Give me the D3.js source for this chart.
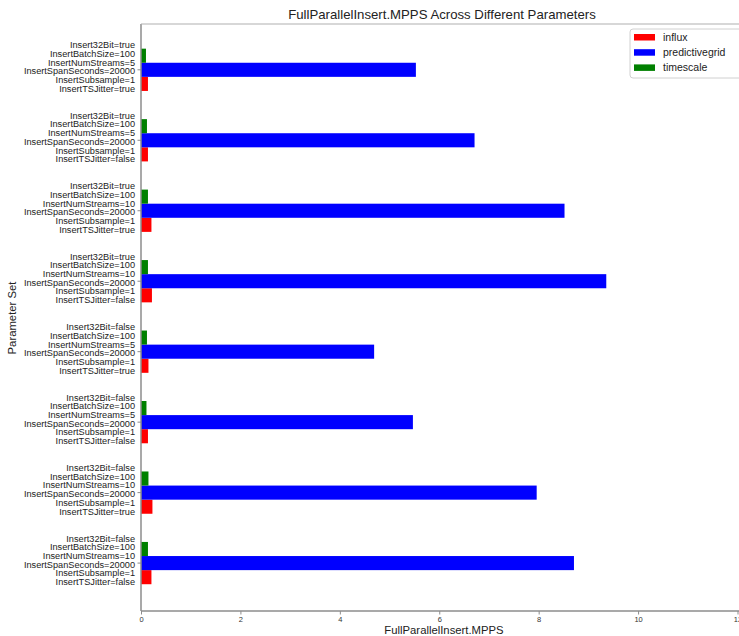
<!DOCTYPE html>
<html>
<head>
<meta charset="utf-8">
<script src="https://cdn.jsdelivr.net/npm/d3@7"></script>
<style>
  html, body { margin: 0; padding: 0; background: #fff; }
  svg { display: block; font-family: "Liberation Sans", Arial, sans-serif; }
</style>
</head>
<body>
<svg id="chart" width="739" height="636"></svg>
<script>
// ---- data ----
const insert32Bit   = ["true", "true", "true", "true", "false", "false", "false", "false"];
const batchSize     = [100, 100, 100, 100, 100, 100, 100, 100];
const numStreams    = [5, 5, 10, 10, 5, 5, 10, 10];
const spanSeconds   = [20000, 20000, 20000, 20000, 20000, 20000, 20000, 20000];
const subsample     = [1, 1, 1, 1, 1, 1, 1, 1];
const tsJitter      = ["true", "false", "true", "false", "true", "false", "true", "false"];

const seriesNames   = ["influx", "predictivegrid", "timescale"];
const influx        = [0.14, 0.14, 0.21, 0.22, 0.15, 0.14, 0.23, 0.21];
const predictivegrid= [5.53, 6.71, 8.52, 9.36, 4.69, 5.47, 7.96, 8.71];
const timescale     = [0.10, 0.12, 0.14, 0.14, 0.12, 0.11, 0.15, 0.14];

const xTicks = [0, 2, 4, 6, 8, 10, 12];

const title  = "FullParallelInsert.MPPS Across Different Parameters";
const xLabel = "FullParallelInsert.MPPS";
const yLabel = "Parameter Set";

(function () {
// ---- build ----
const groups = insert32Bit.map((_, i) => ({
  i,
  lines: [
    "Insert32Bit=" + insert32Bit[i],
    "InsertBatchSize=" + batchSize[i],
    "InsertNumStreams=" + numStreams[i],
    "InsertSpanSeconds=" + spanSeconds[i],
    "InsertSubsample=" + subsample[i],
    "InsertTSJitter=" + tsJitter[i]
  ],
  vals: { influx: influx[i], predictivegrid: predictivegrid[i], timescale: timescale[i] }
}));

const colors = { influx: "#ff0000", predictivegrid: "#0000ff", timescale: "#008000" };
const offsets = { influx: 0.2, predictivegrid: 0, timescale: -0.2 };
const barH = 0.2;

const pLeft = 141, pTop = 24, pBottom = 611, pRight = 737.5;

const svg = d3.select("#chart");
const x = d3.scaleLinear().domain([0, 12]).range([pLeft, pRight]);
const y = d3.scaleLinear().domain([-0.65, 7.68]).range([pTop, pBottom]);

// bars
seriesNames.forEach(s => {
  svg.append("g").selectAll("rect").data(groups).join("rect")
    .attr("x", x(0))
    .attr("y", d => y(d.i + offsets[s] - barH / 2))
    .attr("width", d => x(d.vals[s]) - x(0))
    .attr("height", y(barH) - y(0))
    .attr("fill", colors[s]);
});

// spines
const spine = "#8c8c8c";
svg.append("line").attr("x1", pLeft).attr("x2", pLeft).attr("y1", pTop).attr("y2", pBottom)
  .attr("stroke", spine).attr("stroke-width", 1.5);
svg.append("line").attr("x1", pLeft).attr("x2", 739).attr("y1", pBottom).attr("y2", pBottom)
  .attr("stroke", spine).attr("stroke-width", 1.5);
svg.append("line").attr("x1", pLeft).attr("x2", 739).attr("y1", pTop).attr("y2", pTop)
  .attr("stroke", "#b0b0b0").attr("stroke-width", 1.2);

// x axis
const xAxis = d3.axisBottom(x).tickValues(xTicks).tickSize(3.5).tickPadding(2).tickFormat(d3.format("d"));
const gx = svg.append("g").attr("transform", `translate(0,${pBottom})`).call(xAxis);
gx.select(".domain").remove();
gx.selectAll("line").attr("stroke", spine);
gx.selectAll("text").attr("font-size", 7.5).attr("fill", "#333").attr("font-family", "Liberation Sans, Arial, sans-serif");

// y ticks and multi-line labels
const lineH = 8.7, labFont = 9.2;
const gy = svg.append("g");
groups.forEach(g => {
  const cy = y(g.i);
  gy.append("line").attr("x1", pLeft - 3.5).attr("x2", pLeft).attr("y1", cy).attr("y2", cy)
    .attr("stroke", spine);
  const t = gy.append("text").attr("text-anchor", "end").attr("font-size", labFont).attr("fill", "#222");
  g.lines.forEach((ln, k) => {
    t.append("tspan").attr("x", 135)
      .attr("y", cy - 3 + (k - 2.5) * lineH + labFont * 0.35)
      .text(ln);
  });
});

// title & labels
svg.append("text").attr("x", 442).attr("y", 19).attr("text-anchor", "middle")
  .attr("font-size", 13.2).attr("fill", "#222").text(title);
svg.append("text").attr("x", 444).attr("y", 634).attr("text-anchor", "middle")
  .attr("font-size", 11.3).attr("fill", "#222").text(xLabel);
svg.append("text").attr("transform", `translate(16,318) rotate(-90)`).attr("text-anchor", "middle")
  .attr("font-size", 11.3).attr("fill", "#222").text(yLabel);

// legend
const lg = svg.append("g");
lg.append("rect").attr("x", 630).attr("y", 29).attr("width", 120).attr("height", 49)
  .attr("rx", 3).attr("fill", "#fff").attr("stroke", "#d0d0d0");
seriesNames.forEach((s, k) => {
  const ly = 37 + k * 15.2;
  lg.append("rect").attr("x", 634).attr("y", ly - 3).attr("width", 21).attr("height", 6.5).attr("fill", colors[s]);
  lg.append("text").attr("x", 663).attr("y", ly + 3.7).attr("font-size", 10.5).attr("fill", "#222").text(s);
});
})();
</script>
</body>
</html>
